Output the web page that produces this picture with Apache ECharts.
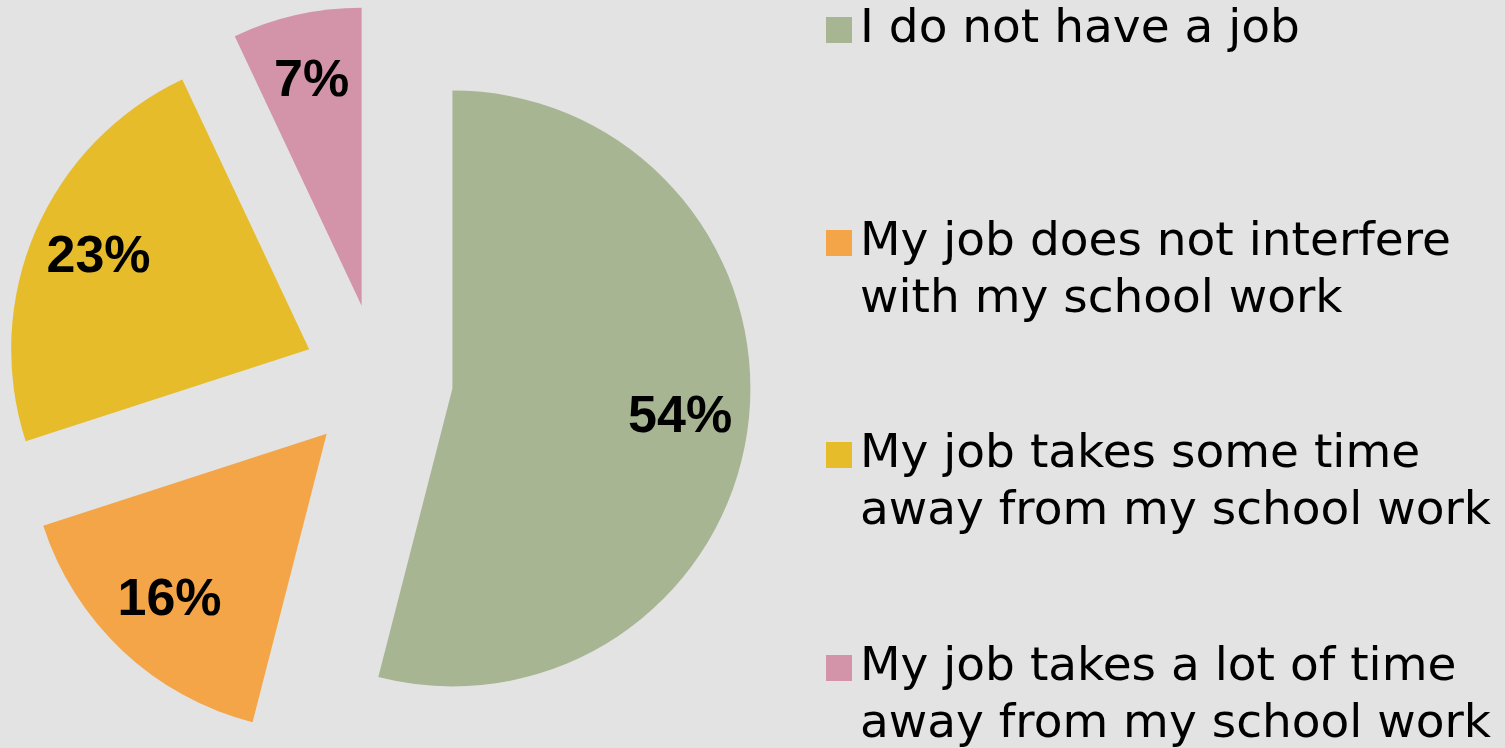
<!DOCTYPE html>
<html>
<head>
<meta charset="utf-8">
<script src="https://cdn.jsdelivr.net/npm/echarts@6/dist/echarts.min.js"></script>
<style>
html,body{margin:0;padding:0;background:#e3e3e3;}
#chart{width:1505px;height:748px;}
</style>
</head>
<body>
<div id="chart"></div>
<script>
const categories = [
  "I do not have a job",
  "My job does not interfere\nwith my school work",
  "My job takes some time\naway from my school work",
  "My job takes a lot of time\naway from my school work"
];
const values = [54, 16, 23, 7];
const colors = ["#a7b593", "#f3a547", "#e6bc2a", "#d393a8"];
const legendTops = [1.5, 157.5, 369.5, 582.5];

const LEGEND_FONT = "'DejaVu Sans', sans-serif";
const LABEL_FONT = "'Liberation Sans', Arial, sans-serif";
const R = 298;
const OFFSET = 75;

const pieData = categories.map((name, i) => ({
  name: name,
  value: values[i],
  selected: true,
  itemStyle: { color: colors[i] }
}));
const labelData = values.map((v) => ({
  value: v,
  selected: true
}));

const legends = categories.map((name, i) => {
  const twoLine = name.indexOf("\n") >= 0;
  return {
    orient: "vertical",
    left: 826,
    top: legendTops[i],
    padding: 0,
    itemWidth: 26,
    itemHeight: 26,
    icon: "rect",
    selectedMode: false,
    data: [name],
    // a leading empty line keeps the icon level with the first text line
    formatter: (n) => (twoLine ? "\n" + n : n),
    textStyle: {
      fontFamily: LEGEND_FONT,
      fontSize: 47,
      lineHeight: 57,
      color: "#000",
      padding: [0, 0, 0, 3]
    }
  };
});

const chart = echarts.init(document.getElementById("chart"), null, { renderer: "canvas" });
chart.setOption({
  backgroundColor: "#e3e3e3",
  animation: false,
  legend: legends,
  series: [
    {
      type: "pie",
      center: [378, 379],
      radius: [0, R],
      startAngle: 90,
      clockwise: true,
      selectedMode: "multiple",
      selectedOffset: OFFSET,
      avoidLabelOverlap: false,
      label: { show: false },
      labelLine: { show: false },
      emphasis: { disabled: true },
      select: { itemStyle: { borderWidth: 0 } },
      silent: true,
      data: pieData
    },
    {
      type: "pie",
      center: [378, 379],
      radius: [155, R],
      startAngle: 90,
      clockwise: true,
      selectedMode: "multiple",
      selectedOffset: OFFSET,
      avoidLabelOverlap: false,
      silent: true,
      itemStyle: { color: "rgba(0,0,0,0)" },
      emphasis: { disabled: true },
      labelLine: { show: false },
      label: {
        show: true,
        position: "inside",
        formatter: "{c}%",
        fontFamily: LABEL_FONT,
        fontWeight: "bold",
        fontSize: 52,
        color: "#000"
      },
      data: labelData
    }
  ]
});
</script>
</body>
</html>
